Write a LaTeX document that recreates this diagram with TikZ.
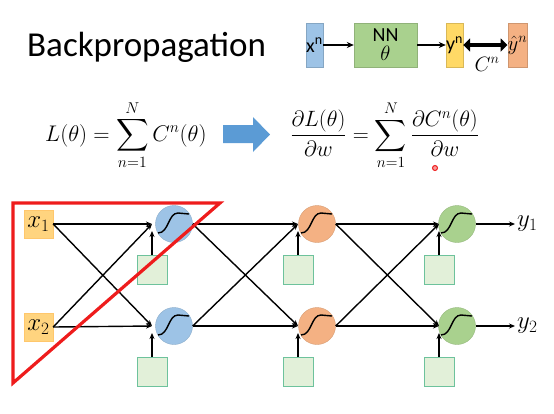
\documentclass[tikz,border=0pt]{standalone}
\usepackage{amsmath}
\usepackage{fontspec}
\setmainfont{Carlito}
\usetikzlibrary{arrows.meta,positioning}
\definecolor{nBlue}{HTML}{9DC3E6}
\definecolor{nOrange}{HTML}{F4B183}
\definecolor{nGreen}{HTML}{A9D18E}
\definecolor{nGold}{HTML}{FFD966}
\definecolor{inFill}{HTML}{FFD47F}
\definecolor{biasFill}{HTML}{E2F0D9}
\definecolor{biasLine}{HTML}{6DC29C}
\definecolor{bigArrow}{HTML}{5B9BD5}
\definecolor{markRed}{HTML}{EE1C1C}
\tikzset{sigm/.pic={\draw[line width=1.4pt] (-16,9) .. controls (-5,9) and (-6,-11) .. (4,-11) .. controls (9,-11) .. (15,-10);}}

\begin{document}
\begin{tikzpicture}[x=1pt,y=-1pt,
  topbox/.style={draw=#1!85!black,fill=#1,minimum height=44pt,inner sep=0pt,font=\fontsize{20}{22}\selectfont},
  inbox/.style={draw=inFill!85!orange,fill=inFill,minimum width=29pt,minimum height=28pt,inner sep=0pt,font=\fontsize{26}{28}\selectfont},
  neuron/.style={circle,draw=#1!88!black,fill=#1,minimum size=37pt,inner sep=0pt},
  biasbox/.style={draw=biasLine,fill=biasFill,line width=1pt,minimum width=30pt,minimum height=29pt,inner sep=0pt},
  arr/.style={-{Stealth[length=6pt,width=5pt]},line width=1.4pt},
  thin arr/.style={-{Stealth[length=7pt,width=6pt]},line width=1.6pt},
  eqn/.style={anchor=west,inner sep=0pt,font=\fontsize{21.5}{25}\selectfont,transform shape,scale=#1}]
  \useasboundingbox (0,0) rectangle (554,413);
  \node[anchor=base west,inner sep=0pt,font=\fontsize{35}{40}\selectfont] (title) at (27,56) {Backpropagation};
  % model sketch, top right
  \node[topbox=nBlue,minimum width=17pt] (xn) at (314.5,45) {x\textsuperscript{n}};
  \node[topbox=nGreen,minimum width=63pt,align=center] (nn) at (385.5,45) {NN\\[-3pt]$\theta$};
  \node[topbox=nGold,minimum width=17pt] (yn) at (454.5,45) {y\textsuperscript{n}};
  \node[topbox=nOrange,minimum width=19pt] (yhat) at (517.5,45) {\fontsize{22}{24}\selectfont$\hat{y}^n$};
  \draw[thin arr] (xn) -- (nn);
  \draw[thin arr] (nn) -- (yn);
  \draw[{Triangle[length=7pt,width=13pt]}-{Triangle[length=7pt,width=13pt]},line width=4.5pt] (yn) -- (yhat);
  \node[font=\fontsize{22}{24}\selectfont] (cn) at (487,64) {$C^n$};
  % equations
  \node[eqn=1.09] (eqL) at (45,135)
    {$\displaystyle L(\theta)=\sum_{n=1}^{N}C^n(\theta)$};
  \fill[bigArrow] (223,125) -- (253,125) -- (253,117) -- (270,134.5) -- (253,152) -- (253,143) -- (223,143) -- cycle;
  \node[eqn=1.07] (eqR) at (290,135)
    {$\displaystyle \frac{\partial L(\theta)}{\partial w}=\sum_{n=1}^{N}\frac{\partial C^n(\theta)}{\partial w}$};
  \draw[markRed,line width=1pt,fill=markRed!45] (435,168) circle (2.5);
  % network
  \node[inbox] (x1) at (38.5,224) {$x_1$};
  \node[inbox] (x2) at (38.5,327) {$x_2$};
  \foreach \l/\cx/\ix/\col in {1/174/152/nBlue,2/317/298/nOrange,3/457/439/nGreen}{
    \foreach \r/\cy in {1/224,2/326}{
      \node[neuron=\col] (n\l\r) at (\cx,\cy) {};
      \pic at (n\l\r) {sigm};
      \coordinate (in\l\r) at (\ix,\cy);
      \coordinate (tip\l\r) at (\ix,\cy+7);
      \node[biasbox] (bias\l\r) at (\ix,\cy+46) {};
      \draw[arr] (bias\l\r) -- (tip\l\r);
    }
  }
  \foreach \a in {1,2}{
    \foreach \b in {1,2}{
      \draw[arr] (x\a.east) -- (in1\b);
      \draw[arr] (n1\a.east) -- (in2\b);
      \draw[arr] (n2\a.east) -- (in3\b);
    }
  }
  \node[anchor=west,inner sep=2pt,font=\fontsize{26}{28}\selectfont] (y1) at (515,224) {$y_1$};
  \node[anchor=west,inner sep=2pt,font=\fontsize{26}{28}\selectfont] (y2) at (515,326) {$y_2$};
  \draw[arr] (n31) -- (y1);
  \draw[arr] (n32) -- (y2);
  % red outline
  \draw[markRed,line width=3.2pt,line join=miter] (13,203) -- (220,203) -- (13,383) -- cycle;
\end{tikzpicture}
\end{document}
